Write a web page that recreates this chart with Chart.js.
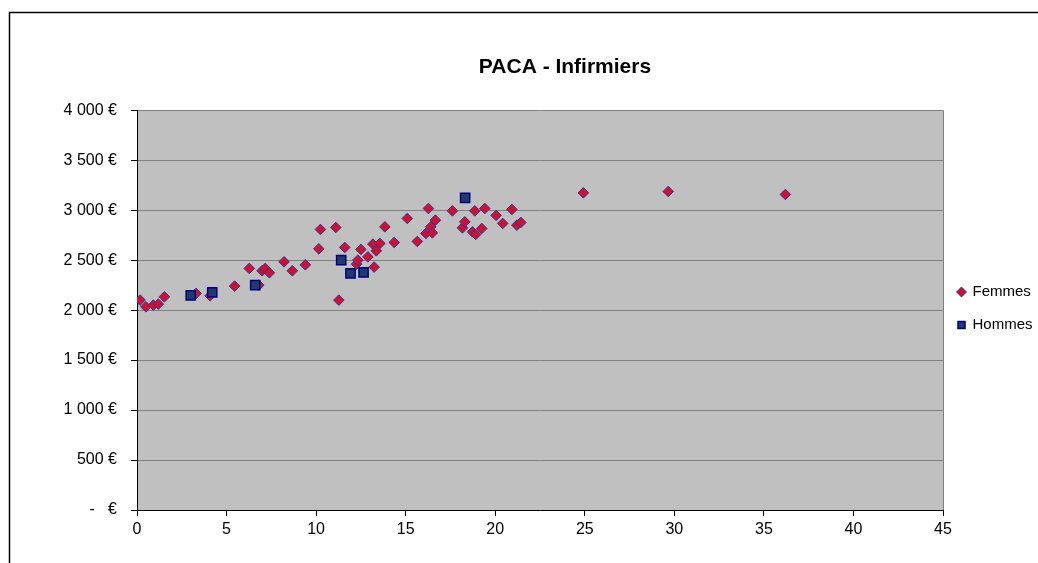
<!DOCTYPE html>
<html>
<head>
<meta charset="utf-8">
<script src="https://cdn.jsdelivr.net/npm/chart.js@4/dist/chart.umd.min.js"></script>
<style>
  html, body { margin: 0; padding: 0; background: #fff; }
  canvas { display: block; }
</style>
</head>
<body>
<canvas id="chart" width="1038" height="563"></canvas>
<script>
// PACA - Infirmiers : salaire selon l'ancienneté
const femmesX = [0.17, 0.5, 0.91, 1.19, 1.53, 3.3, 4.08, 5.45, 6.8, 6.27, 6.98, 7.16, 7.39, 8.21, 8.67, 9.4,
    10.15, 10.24, 11.1, 11.27, 11.6, 12.26, 12.33, 12.5, 12.89, 13.17, 13.24, 13.36, 13.56, 13.84, 14.36,
    15.09, 15.65, 16.27, 16.13, 16.4, 16.49, 16.66, 17.61, 18.17, 18.3, 18.73, 18.91, 18.86, 19.25, 19.42,
    20.05, 20.42, 20.93, 21.21, 21.43, 24.92, 29.66, 36.2];
const femmesY = [2100, 2033, 2050, 2060, 2133, 2167, 2143, 2240, 2250, 2417, 2393, 2417, 2373, 2483, 2393, 2453,
    2613, 2807, 2827, 2100, 2627, 2460, 2500, 2607, 2533, 2660, 2430, 2593, 2667, 2833, 2677,
    2917, 2687, 3017, 2767, 2833, 2773, 2900, 2993, 2823, 2883, 2783, 2757, 2993, 2817, 3017,
    2947, 2867, 3007, 2850, 2877, 3173, 3187, 3157];
const hommesX = [3.0, 4.2, 6.6, 11.4, 11.92, 12.65, 18.32];
const hommesY = [2147, 2177, 2250, 2500, 2367, 2377, 3123];

const xTicks = [0, 5, 10, 15, 20, 25, 30, 35, 40, 45];
const yTicks = [0, 500, 1000, 1500, 2000, 2500, 3000, 3500, 4000];

function toPoints(xs, ys) {
    return xs.map((x, i) => ({ x: x, y: ys[i] }));
}

function euro(v) {
    if (v === 0) return '-\u00a0\u00a0\u00a0€';
    if (v < 1000) return v + ' €';
    return Math.floor(v / 1000) + ' ' + String(v % 1000).padStart(3, '0') + ' €';
}

// fond gris de la zone de tracé + cadre du graphique
const plotBackground = {
    id: 'plotBackground',
    afterLayout(chart) {
        // titre centré comme dans Excel, légende descendue
        if (chart.titleBlock) {
            chart.titleBlock.left = 92;
            chart.titleBlock.right = chart.width;
        }
        if (chart.legend) {
            chart.legend.top += 54;
            chart.legend.left -= 3;
        }
    },
    beforeDraw(chart) {
        const { ctx, chartArea: a } = chart;
        ctx.save();
        ctx.fillStyle = '#fff';
        ctx.fillRect(0, 0, chart.width, chart.height);
        ctx.fillStyle = '#c0c0c0';
        ctx.fillRect(a.left, a.top, a.right - a.left, a.bottom - a.top);
        ctx.strokeStyle = '#000';
        ctx.lineWidth = 1.5;
        ctx.beginPath();
        ctx.moveTo(9.5, chart.height);
        ctx.lineTo(9.5, 12.5);
        ctx.lineTo(chart.width, 12.5);
        ctx.stroke();
        ctx.restore();
    }
};

const tickFont = { family: 'Liberation Sans, Arial, sans-serif', size: 16 };

new Chart(document.getElementById('chart'), {
    type: 'scatter',
    data: {
        datasets: [{
            label: 'Femmes',
            data: toPoints(femmesX, femmesY),
            pointStyle: 'rectRot',
            backgroundColor: '#cc1133',
            borderColor: '#333399',
            borderWidth: 1,
            pointRadius: 5.3,
            order: 1
        }, {
            label: 'Hommes',
            data: toPoints(hommesX, hommesY),
            pointStyle: 'rect',
            backgroundColor: '#1f3a6b',
            borderColor: '#000080',
            borderWidth: 1.5,
            pointRadius: 6.5,
            order: 0
        }]
    },
    options: {
        responsive: false,
        animation: false,
        layout: {
            padding: { left: 0, right: 0, top: 0, bottom: 0 }
        },
        plugins: {
            title: {
                display: true,
                text: 'PACA - Infirmiers',
                color: '#000',
                font: { family: 'Liberation Sans, Arial, sans-serif', size: 21, weight: 'bold' },
                padding: { top: 55, bottom: 30 }
            },
            legend: {
                position: 'right',
                maxWidth: 95,
                labels: {
                    usePointStyle: true,
                    boxWidth: 7,
                    boxHeight: 7,
                    padding: 18,
                    color: '#000',
                    font: { family: 'Liberation Sans, Arial, sans-serif', size: 15 },
                    sort: (a, b) => a.datasetIndex - b.datasetIndex
                }
            },
            tooltip: { enabled: false }
        },
        scales: {
            x: {
                type: 'linear',
                min: 0,
                max: 45,
                afterBuildTicks(scale) {
                    scale.ticks = xTicks.map(v => ({ value: v }));
                },
                afterFit(scale) {
                    scale.height = 53;
                },
                grid: {
                    color: ctx => ctx.tick && ctx.tick.value === 45 ? '#808080' : 'rgba(0,0,0,0)',
                    tickColor: '#000',
                    tickLength: 6
                },
                border: { color: '#000', width: 1 },
                ticks: {
                    color: '#000',
                    font: tickFont,
                    padding: 4,
                    maxRotation: 0
                }
            },
            y: {
                type: 'linear',
                min: 0,
                max: 4000,
                afterBuildTicks(scale) {
                    scale.ticks = yTicks.map(v => ({ value: v }));
                },
                afterFit(scale) {
                    scale.width = 137;
                },
                grid: {
                    color: '#808080',
                    tickColor: '#000',
                    tickLength: 6
                },
                border: { color: '#000', width: 1 },
                ticks: {
                    color: '#000',
                    font: tickFont,
                    padding: 14,
                    callback: v => euro(v)
                }
            }
        }
    },
    plugins: [plotBackground]
});
</script>
</body>
</html>
